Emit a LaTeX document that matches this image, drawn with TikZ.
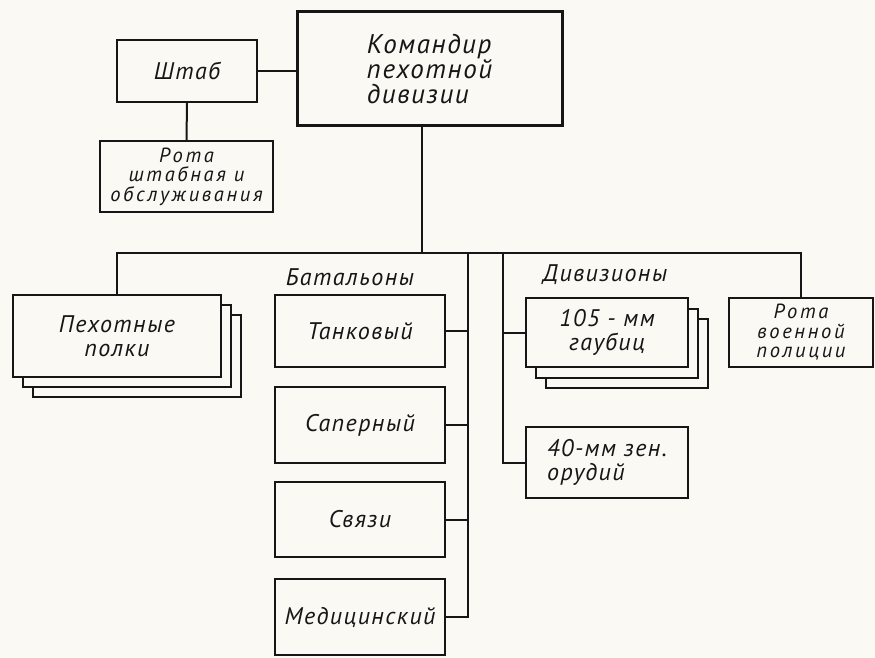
\documentclass[tikz,border=0pt]{standalone}
\usepackage{fontspec}
\setmainfont{PT Sans}[LetterSpace=6]
\newfontfamily\rotafont{PT Sans}[LetterSpace=13]
\usetikzlibrary{positioning}
\definecolor{paper}{RGB}{250,249,244}
\definecolor{ink}{RGB}{22,22,22}

\begin{document}
\begin{tikzpicture}[
  x=1pt,y=-1pt,
  font=\itshape\fontsize{24}{24}\selectfont,
  box/.style={rectangle,draw=ink,line width=2pt,fill=paper,text=ink,
              inner sep=2pt,align=center},
  cmdbox/.style={box,line width=3pt,align=left,
              font=\itshape\fontsize{27}{25}\selectfont},
  small/.style={font=\rotafont\itshape\fontsize{20.5}{19.5}\selectfont},
  bat/.style={box,minimum width=170},
  lbl/.style={text=ink},
  link/.style={draw=ink,line width=2pt}
]
\fill[paper] (0,0) rectangle (875,658);
\useasboundingbox (0,0) rectangle (875,658);

% top
\node[cmdbox,minimum width=265,minimum height=114] (cmd) at (429.5,69) {Командир\\пехотной\\дивизии};
\node[box,minimum width=140,minimum height=62] (staff) at (187,71) {Штаб};
\node[box,small,minimum width=173,minimum height=71] (hqco) at (186.5,176.5) {Рота\\штабная и\\обслуживания};

% infantry regiments (stacked)
\coordinate (infc) at (117,336);
\node[box,minimum width=208,minimum height=82] (inf3) at ([shift={(20,20)}]infc) {};
\node[box,minimum width=208,minimum height=82] (inf2) at ([shift={(10,10)}]infc) {};
\node[box,minimum width=208,minimum height=82] (inf) at (infc) {Пехотные\\полки};

% battalions
\node[lbl] (batl) at (350,277) {Батальоны};
\node[bat,minimum height=72] (tank) at (360,331) {Танковый};
\node[bat,minimum height=76,below=18pt of tank] (sapper) {Саперный};
\node[bat,minimum height=75,below=17pt of sapper] (signal) {Связи};
\node[bat,minimum height=76,below=20pt of signal] (med) {Медицинский};

% artillery battalions
\node[lbl] (divl) at (605,275) {Дивизионы};
\coordinate (howc) at (607,332.5);
\node[box,minimum width=162,minimum height=69] (how3) at ([shift={(20,21)}]howc) {};
\node[box,minimum width=162,minimum height=69] (how2) at ([shift={(10,11)}]howc) {};
\node[box,minimum width=162,minimum height=69] (how) at (howc) {105 - мм\\гаубиц};
\node[box,align=left,minimum width=162,minimum height=71] (aa) at (607,462.5) {40-мм зен.\\ орудий};

% military police
\node[box,small,minimum width=144,minimum height=69] (mp) at (801,332.5) {Рота\\военной\\полиции};

% connectors
\coordinate (bus) at (422,253);
\coordinate (btr) at (468,253);
\coordinate (dtr) at (503,253);
\draw[link] (staff.east) -- (staff.east -| cmd.west);
\draw[link] (staff.south) -- (hqco.north);
\draw[link] (bus |- cmd.south) -- (bus);
\draw[link] (inf.north) |- (bus) -| (mp.north);
\draw[link] (btr) |- (med.east);
\draw[link] (tank.east) -- (tank.east -| btr);
\draw[link] (sapper.east) -- (sapper.east -| btr);
\draw[link] (signal.east) -- (signal.east -| btr);
\draw[link] (dtr) |- (aa.west);
\draw[link] (how.west -| dtr) -- (how.west);
\end{tikzpicture}
\end{document}
